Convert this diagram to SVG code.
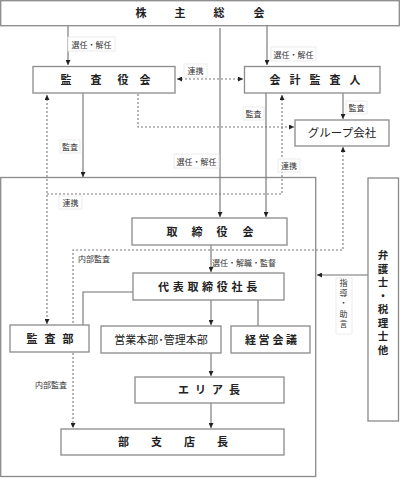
<svg xmlns="http://www.w3.org/2000/svg" width="400" height="478" viewBox="0 0 400 478">
<defs>
<style>
.box{fill:#fff;stroke:#8a8a8a;stroke-width:1.3}
.t{font-family:"Noto Sans CJK JP","Noto Sans CJK SC",sans-serif;font-size:11px;font-weight:bold;fill:#222;text-anchor:middle}
.ln{fill:none;stroke:#707070;stroke-width:1.1}
.dt{fill:none;stroke:#7a7a7a;stroke-width:1.1;stroke-dasharray:2 2}
.lb{fill:#fff;stroke:#e6e6e6;stroke-width:0.8}
.lt{font-family:"Noto Sans CJK JP","Noto Sans CJK SC",sans-serif;font-size:8px;fill:#333;text-anchor:middle}
</style>
<marker id="a" viewBox="0 0 6 6" refX="6" refY="3" markerWidth="5" markerHeight="5" orient="auto" markerUnits="userSpaceOnUse">
<path d="M0,0 L6,3 L0,6 Z" fill="#222"/>
</marker>
<marker id="s" viewBox="0 0 6 6" refX="0" refY="3" markerWidth="5" markerHeight="5" orient="auto" markerUnits="userSpaceOnUse">
<path d="M6,0 L0,3 L6,6 Z" fill="#222"/>
</marker>
</defs>
<rect width="400" height="478" fill="#fff"/>

<g id="outer-frame"><rect class="box" x="0.7" y="177.5" width="315" height="299"/></g>

<g id="connectors">
<path class="ln" d="M68,26 V65" marker-end="url(#a)"/>
<path class="ln" d="M267,26 V65" marker-end="url(#a)"/>
<path class="ln" d="M220,28 V217" marker-end="url(#a)"/>
<path class="dt" d="M177,79 H243" marker-start="url(#s)" marker-end="url(#a)"/>
<path class="ln" d="M83,93 V177" marker-end="url(#a)"/>
<path class="dt" d="M138,94 V127 H294" marker-end="url(#a)"/>
<path class="ln" d="M266,93 V217" marker-end="url(#a)"/>
<path class="ln" d="M343,93 V119" marker-end="url(#a)"/>
<path class="dt" d="M47,95 V324" marker-start="url(#s)" marker-end="url(#a)"/>
<path class="dt" d="M47,194 H282 V95" marker-end="url(#a)"/>
<path class="dt" d="M343,147 V250 H73 V428" marker-start="url(#s)" marker-end="url(#a)"/>
<path class="ln" d="M211,245 V272" marker-end="url(#a)"/>
<path class="ln" d="M133,292 H83 V325"/>
<path class="ln" d="M211,300 V325" marker-end="url(#a)"/>
<path class="ln" d="M258,300 V326"/>
<path class="ln" d="M211,353 V376" marker-end="url(#a)"/>
<path class="ln" d="M211,403 V428" marker-end="url(#a)"/>
<path class="ln" d="M368,275 H317" marker-end="url(#a)"/>
</g>

<g id="labels">
<rect class="lb" x="68" y="37" width="47" height="14"/><text class="lt" x="91.5" y="47.5">選任・解任</text>
<rect class="lb" x="271" y="47" width="45" height="14"/><text class="lt" x="293.5" y="57.5">選任・解任</text>
<rect class="lb" x="184" y="64" width="23" height="13"/><text class="lt" x="195.5" y="74">連携</text>
<rect class="lb" x="60" y="140" width="20" height="13"/><text class="lt" x="70" y="150">監査</text>
<rect class="lb" x="243" y="107" width="21" height="13"/><text class="lt" x="253.5" y="117">監査</text>
<rect class="lb" x="346" y="101" width="21" height="13"/><text class="lt" x="356.5" y="111">監査</text>
<rect class="lb" x="174" y="154" width="45" height="14"/><text class="lt" x="196.5" y="164.5">選任・解任</text>
<rect class="lb" x="278" y="159" width="22" height="13"/><text class="lt" x="289" y="169">連携</text>
<rect class="lb" x="59" y="196" width="23" height="13"/><text class="lt" x="70.5" y="206">連携</text>
<text class="lt" x="94" y="262">内部監査</text>
<text class="lt" x="244" y="265.5">選任・解職・監督</text>
<rect class="lb" x="336" y="278" width="16" height="56"/>
<text class="lt"><tspan x="343.5" y="286">指</tspan><tspan x="343.5" y="296">導</tspan><tspan x="343.5" y="306">・</tspan><tspan x="343.5" y="317">助</tspan><tspan x="343.5" y="327">言</tspan></text>
<text class="lt" x="51" y="388">内部監査</text>
</g>

<g id="shareholders">
<rect class="box" x="0.7" y="0.7" width="398.6" height="25"/>
<text class="t" x="141 180 219 259" y="17">株主総会</text>
</g>
<g id="audit-board">
<rect class="box" x="33" y="66.5" width="142" height="26.5"/>
<text class="t" x="66 96 123 145" y="84">監査役会</text>
</g>
<g id="accounting-auditor">
<rect class="box" x="244.5" y="66.5" width="135.5" height="26.5"/>
<text class="t" x="275 295 315 335 355" y="84">会計監査人</text>
</g>
<g id="group-companies">
<rect class="box" x="295" y="120" width="94" height="26"/>
<text class="t" x="342" y="137" style="font-weight:normal;font-size:11.5px">グループ会社</text>
</g>
<g id="board">
<rect class="box" x="132" y="218" width="155" height="27"/>
<text class="t" x="172 197 222 248" y="235.5">取締役会</text>
</g>
<g id="president">
<rect class="box" x="133" y="273" width="151" height="27"/>
<text class="t" x="163.5 178.2 192.9 207.6 222.3 237 251.7" y="290.5">代表取締役社長</text>
</g>
<g id="internal-audit">
<rect class="box" x="10" y="325" width="79" height="27"/>
<text class="t" x="32 50 68" y="342.5">監査部</text>
</g>
<g id="divisions">
<rect class="box" x="101" y="326" width="120" height="27"/>
<text class="t" x="161" y="343.5" style="font-weight:normal">営業本部･管理本部</text>
</g>
<g id="management-meeting">
<rect class="box" x="231" y="326" width="79" height="27"/>
<text class="t" x="250.5 264 278 291.5" y="343.5">経営会議</text>
</g>
<g id="area-manager">
<rect class="box" x="135" y="377" width="149" height="26"/>
<text class="t" x="183.5 200.5 217.5 234.5" y="394">エリア長</text>
</g>
<g id="branch-manager">
<rect class="box" x="61" y="429" width="223" height="26"/>
<text class="t" x="123.5 156.5 189.5 222.5" y="446">部支店長</text>
</g>
<g id="advisors">
<rect class="box" x="368" y="178" width="30.5" height="243"/>
<text class="t" style="font-size:10.5px"><tspan x="383" y="259">弁</tspan><tspan x="383" y="272.5">護</tspan><tspan x="383" y="286">士</tspan><tspan x="383" y="299.5">・</tspan><tspan x="383" y="313">税</tspan><tspan x="383" y="326.5">理</tspan><tspan x="383" y="340">士</tspan><tspan x="383" y="353.5">他</tspan></text>
</g>
</svg>
